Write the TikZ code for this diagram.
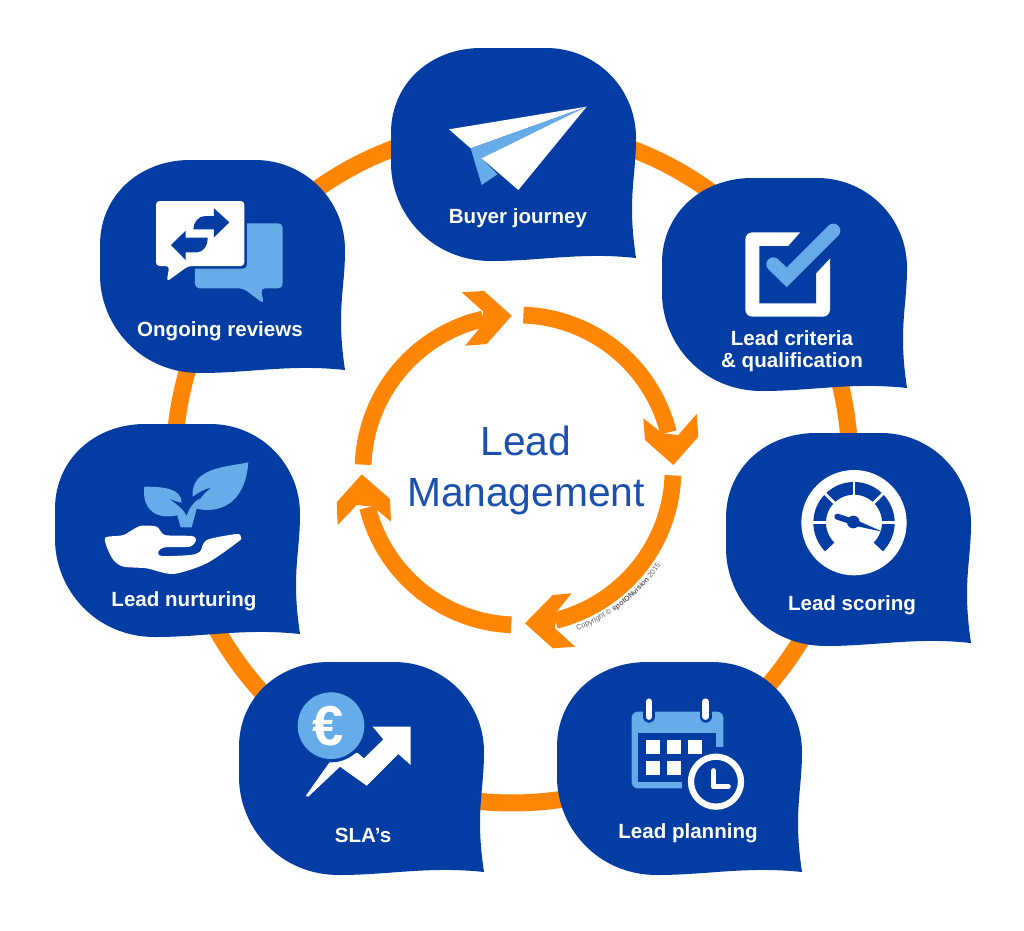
\documentclass[tikz,border=0pt]{standalone}
\usepackage{fontspec}
\setmainfont{Liberation Sans}
\usetikzlibrary{decorations.text}
\definecolor{bblue}{HTML}{033CA3}
\definecolor{borange}{HTML}{FF8505}
\definecolor{lblue}{HTML}{66ACE8}
\definecolor{tblue}{HTML}{1A50AE}
\newcommand{\cfont}{\fontsize{4.2}{4.5}\selectfont\color{gray!75!black}}
\tikzset{
  bubblefill/.style={fill=bblue,draw=none},
  blabel/.style={text=white,font=\fontsize{11.7}{12.6}\selectfont\bfseries,align=center,inner sep=0pt},
  zm/.style={x=0.0066667cm,y=-0.0066667cm},
  arcline/.style={draw=borange,line width=0.335cm,line cap=butt},
  arrowtip/.style={fill=borange,draw=none},
  title/.style={text=tblue,font=\fontsize{23.2}{28.8}\selectfont,align=center,inner sep=0pt},
}
\newcommand{\bubble}[2]{\fill[bubblefill,shift={(#1,#2)}] (245,210) .. controls (190,204) and (150,213) .. (100,213) .. controls (40,213) and (0,165) .. (0,115) -- (0,85) .. controls (0,35) and (40,0) .. (90,0) -- (155,0) .. controls (205,0) and (245,40) .. (245,90) .. controls (245,130) and (236,150) .. (245,210) -- cycle;}
\newcommand{\innerarc}[2]{\draw[arcline] plot[domain=#1:#2,samples=60,smooth] ({518+155*cos(\x)},{470-155*sin(\x)});}
\begin{document}
\begin{tikzpicture}[x=0.02cm,y=-0.02cm]
\useasboundingbox (0,0) rectangle (1024,930);
\fill[white] (0,0) rectangle (1024,930);
% outer ring
\node[circle,draw=borange,line width=0.34cm,minimum size=13.52cm,inner sep=0pt,outer sep=0pt] (ring) at (512,465) {};
% bubbles
\bubble{391}{48}
\bubble{662}{178}
\bubble{726}{433}
\bubble{557}{662}
\bubble{239}{662}
\bubble{55}{424}
\bubble{100}{160}
% labels
\node[blabel] (journey) at (518,218) {Buyer journey};
\node[blabel] (criteria) at (792,351) {Lead criteria\\\& qualification};
\node[blabel] (scoring) at (852,605) {Lead scoring};
\node[blabel] (planning) at (688,833) {Lead planning};
\node[blabel] (sla) at (363,835) {SLA’s};
\node[blabel] (nurturing) at (184,601) {Lead nurturing};
\node[blabel] (reviews) at (220,331) {Ongoing reviews};
% inner cycle
\innerarc{88}{14}
\innerarc{-2}{-76}
\innerarc{-92.5}{-166}
\innerarc{178}{103}
\fill[arrowtip] (673.3,465) -- (645,440) -- (643.3,418.3) -- (662.3,433.3) -- (678.3,435) -- (696.7,414) -- (698.3,436.7) -- cycle;
\fill[arrowtip] (511.7,315.7) -- (486.7,344) -- (465,345.7) -- (480,327.7) -- (483.3,311.7) -- (461.7,292.3) -- (484,291) -- cycle;
\fill[arrowtip] (525,623.3) -- (552.7,595) -- (571.7,593.3) -- (556.7,611.7) -- (555,628.3) -- (575,646.7) -- (552.7,648.3) -- cycle;
\fill[arrowtip] (361.7,474.3) -- (390,499) -- (391,521.7) -- (373.3,506.7) -- (356.7,505) -- (337.7,525) -- (336.7,502.3) -- cycle;
\node[title] (lead) at (526,470.5) {Lead\\Management};
\path[decorate,decoration={text along path,text align=center,text={|\cfont\mdseries|Copyright © |\cfont\bfseries|spotONvision|\cfont\mdseries| 2015}}] (575,631) .. controls (610.7,618.4) and (640.9,595) .. (662,563);
% plane
\begin{scope}[shift={(380,40)},zm]
\fill[white] (207,268) -- (620,200) -- (272,325) -- cycle;
\fill[lblue] (272,325) -- (620,200) -- (305,355) -- (352,403) -- (305,435) -- cycle;
\fill[white] (305,355) -- (620,200) -- (415,450) -- cycle;
\end{scope}
% check
\begin{scope}[shift={(730,215)},zm]
\fill[white,rounded corners=4pt] (46,52) rectangle (300,305);
\fill[bblue] (88,93) -- (175,93) -- (213,50) -- (303,50) -- (303,130) -- (300,130) -- (258,175) -- (258,265) -- (88,265) -- cycle;
\draw[lblue,line width=0.28cm,line cap=round,miter limit=10] (130,148) -- (170,187) -- (310,47);
\end{scope}
% gauge
\begin{scope}[shift={(720,430)},zm]
\fill[white] (402,278) circle (158);
\draw[bblue,line width=0.253cm] plot[domain=-225:45,samples=60,smooth] ({402+103*cos(\x)},{278+103*sin(\x)});
\foreach \a in {-180,-135,-90,-45,0}
  \draw[white,line width=0.055cm] ({402+78*cos(\a)},{278+78*sin(\a)}) -- ({402+128*cos(\a)},{278+128*sin(\a)});
\draw[bblue,line width=0.12cm,line cap=round] (400,276) -- (352,260);
\fill[bblue] (400,276) circle (19);
\fill[bblue] (404,268) -- (487,305) -- (398,286) -- cycle;
\end{scope}
% calendar
\begin{scope}[shift={(610,680)},zm]
\fill[lblue,rounded corners=3.5pt] (65,95) rectangle (340,325);
\fill[bblue] (85,160) rectangle (318,305);
\fill[bblue] (318,200) rectangle (345,305);
\fill[bblue] (215,305) rectangle (345,330);
\foreach \cx in {117,287} {
  \draw[bblue,line width=0.24cm,line cap=round] (\cx,80) -- (\cx,110);
  \draw[white,line width=0.13cm,line cap=round] (\cx,65) -- (\cx,110);
}
\fill[bblue] (318,305) circle (92);
\foreach \cx/\cy in {107/180,170/180,233/180,107/243,170/243}
  \fill[white] (\cx,\cy) rectangle +(42,42);
\draw[white,line width=0.125cm] (318,305) circle (75);
\draw[white,line width=0.1cm,line cap=round,line join=round] (310,272) -- (310,320) -- (355,320);
\end{scope}
% euro and arrow
\begin{scope}[shift={(280,680)},zm]
\fill[white] (77,348) -- (150,245) -- (232,218) -- (252,235) -- (310,178) -- (278,140) -- (392,140) -- (392,255) -- (355,222) -- (260,317) -- (180,260) -- (85,350) -- cycle;
\fill[bblue] (153,137) circle (110);
\fill[lblue] (153,137) circle (100);
\node[text=white,font=\fontsize{32}{32}\selectfont\bfseries,inner sep=0pt] (euro) at (145,137) {€};
\end{scope}
% hand and plant
\begin{scope}[shift={(90,450)},zm]
\fill[white] plot[smooth cycle,tension=0.45] coordinates {(47,262) (100,255) (150,228) (200,230) (225,255) (305,258) (318,270) (300,290) (225,292) (205,305) (215,318) (300,315) (330,305) (350,270) (440,252) (453,262) (445,275) (350,340) (250,372) (170,355) (100,350) (70,330) (50,290)};
\fill[lblue] (475,37) .. controls (420,50) and (300,50) .. (308,140) .. controls (325,128) and (345,115) .. (365,113) .. controls (340,130) and (325,150) .. (320,176) .. controls (380,190) and (465,170) .. (475,37) -- cycle;
\fill[lblue] (163,110) .. controls (220,110) and (275,115) .. (275,158) .. controls (260,155) and (245,150) .. (232,143) .. controls (255,160) and (280,175) .. (290,198) .. controls (298,175) and (310,155) .. (330,145) -- (320,176) -- (305,232) -- (272,232) -- (262,196) .. controls (200,210) and (155,180) .. (163,110) -- cycle;
\end{scope}
% chat
\begin{scope}[shift={(140,190)},zm]
\fill[lblue,rounded corners=2.5pt] (165,100) -- (428,100) -- (428,295) -- (362,295) -- (372,342) -- (310,295) -- (165,295) -- cycle;
\fill[bblue,rounded corners=2.5pt] (40,25) rectangle (321,236);
\fill[white,rounded corners=2pt] (48,33) -- (313,33) -- (313,228) -- (145,228) -- (80,275) -- (88,228) -- (48,228) -- cycle;
\fill[bblue] (268,97) -- (222,55) -- (222,78) -- (195,78) .. controls (175,78) and (160,98) .. (160,118) -- (222,118) -- (222,142) -- cycle;
\fill[bblue] (93,165) -- (137,122) -- (137,143) -- (203,143) .. controls (203,168) and (190,187) .. (170,187) -- (137,187) -- (137,210) -- cycle;
\end{scope}
\end{tikzpicture}
\end{document}
